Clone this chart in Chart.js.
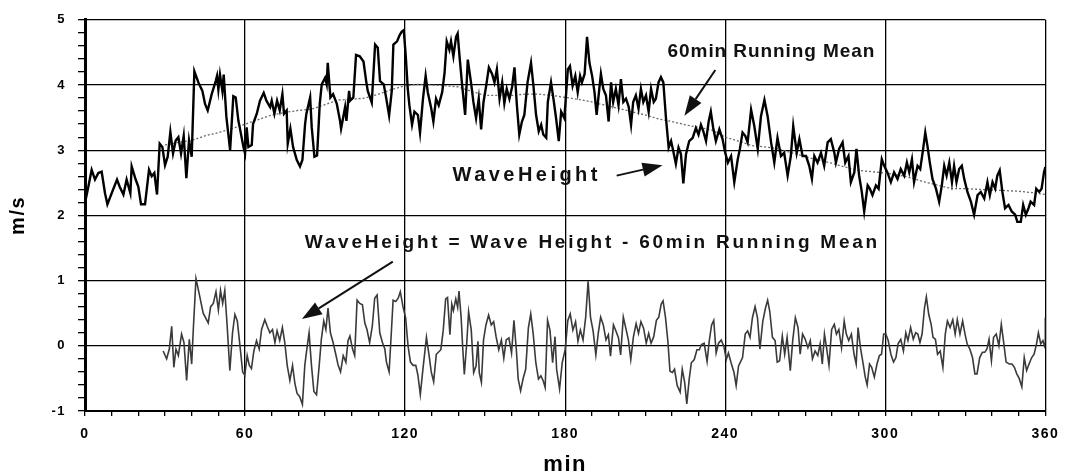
<!DOCTYPE html>
<html><head><meta charset="utf-8">
<script src="https://cdn.jsdelivr.net/npm/chart.js@4.4.1/dist/chart.umd.min.js"></script>
<style>html,body{margin:0;padding:0;background:#fff;}canvas{display:block;}</style>
</head><body>
<canvas id="c" width="1067" height="475"></canvas>
<script>
// ---- Wave height (m/s), time in minutes ----
const waveMin = [0,1.25,2.5,3.75,5,6.25,7.5,8.4,10,12,13,14.4,15.6,17,17.5,19,20,21,22.5,24,25,26,27,28,29,30,31,32,33,34,35,36,37,38,39,40,41,42.5,44,45,46,47.5,49,49.5,50,50.6,51.5,52,53,54.4,55.6,56.5,57.5,58,59.4,60,60.6,61.25,62.5,63,64.4,65.6,67,68,69.4,70,71,72,73,74,74.6,75.6,76,77,78,79.4,80.6,81.5,82.5,83,84.4,85,86,87,88,88.75,90,90.6,91,92,93,94.4,95.6,96,97.5,98,99,99.4,100.6,101.6,103,104.4,105.4,106,107.5,108.75,109.75,110.6,112,113,114,115,115.6,117,118,118.75,
119.5,120.25,121,121.6,122.6,123.5,124.8,125.6,126.7,127.7,128.5,129.8,130.6,131.6,132.6,133.9,134.8,135.6,136.6,137.2,138.1,139.1,139.7,140.4,141.4,142.5,143.5,144.7,145.6,146.6,147.6,148.5,149.4,150.4,151.4,152.6,153.5,154.4,155.4,156.4,157.2,158.1,159.1,160.1,161,161.9,162.8,163.8,164.7,165.9,167.2,168.1,169.1,170.1,171,171.8,172.9,173.5,174.7,175.6,176.6,177.6,178.5,179.7,181,181.8,182.8,183.8,184.7,185.6,186.3,187.3,188.2,189.1,190.1,191,191.8,192.8,193.4,194.3,195.3,196.3,197.2,198,199,200,200.9,201.8,202.8,203.8,204.7,205.5,206.5,207.5,208.4,209.3,210.3,211.3,212.2,213.2,214,215,215.9,216.8,217.8,218.8,219.7,220.5,221.5,222.5,223.4,224.3,225.3,226.5,227.8,229,230,230.9,231.8,232.8,233.8,234.6,235.5,236.5,
237.8,239,240,241,242.2,243.4,244.7,245.5,246.5,247.5,248.4,249.7,250.9,252.2,253.4,254.7,255.9,257.2,258.4,259.6,260.9,262.1,263.4,264.6,265.5,266.8,267.8,269,270.3,271.5,272.5,273.4,274.6,275.9,277.1,278.4,279.6,280.9,281.5,282.7,284,285,286.2,287.1,288.4,289.2,290.2,291.2,292.1,293.4,294.2,295.2,296.5,297.5,298.7,299.6,300.8,302.1,303.3,304.6,305.8,307.1,308.1,309,310,310.8,312.1,313.1,314.2,315,315.8,316.7,317.7,319,320.2,321.2,322.1,323,324,325,325.8,326.7,327.7,328.7,329.6,330.8,332.1,333.3,334.6,335.8,337.1,338.3,339.2,340.2,341.2,342,342.9,343.9,344.9,346.2,347.4,348.7,349.5,350.8,351.7,352.7,353.7,354.5,355.8,356.6,357.7,358.6,359.5,360];
const waveVal = [2.19,2.44,2.70,2.55,2.65,2.67,2.34,2.17,2.34,2.55,2.44,2.32,2.55,2.34,2.75,2.55,2.44,2.17,2.17,2.70,2.60,2.65,2.32,3.10,3.05,2.77,2.90,3.28,2.95,3.15,3.20,2.95,3.22,2.57,3.15,2.90,4.21,4.04,3.91,3.71,3.61,3.86,4.06,4.14,3.93,4.16,3.91,4.16,3.51,3.00,3.83,3.81,3.45,3.35,3.05,2.95,3.35,3.05,3.08,3.40,3.56,3.76,3.88,3.76,3.66,3.76,3.56,3.76,3.61,3.86,3.56,3.61,3.10,3.33,3.05,2.85,2.75,2.85,3.40,3.56,3.81,3.35,2.90,2.92,3.71,4.01,4.11,4.01,4.34,3.81,3.86,3.71,3.45,3.33,3.66,3.45,3.91,3.76,3.81,4.46,4.44,4.36,4.06,3.91,3.73,4.62,4.57,4.06,4.01,3.78,3.53,3.91,4.62,4.67,4.77,4.82,
4.84,4.44,3.94,3.69,3.39,3.59,3.54,3.27,3.79,4.14,3.89,3.64,3.44,3.79,3.69,3.89,4.19,4.67,4.54,4.67,4.44,4.74,4.79,4.44,3.99,3.54,4.39,4.04,3.74,3.49,3.79,3.32,3.74,3.99,4.27,4.17,4.04,4.24,3.79,4.04,3.72,3.94,3.79,3.97,4.27,3.69,3.24,3.44,3.54,4.04,4.34,3.99,3.54,3.29,3.39,3.24,3.19,3.74,4.04,3.79,3.49,3.14,3.59,3.49,4.24,4.29,3.99,4.14,3.89,4.14,4.04,4.17,4.74,4.34,4.14,3.89,3.54,3.94,4.17,3.94,3.84,3.44,4.04,3.74,3.94,3.69,4.09,3.74,3.79,3.67,3.39,3.74,3.84,3.64,3.94,3.74,3.84,3.59,3.94,3.74,3.79,4.04,4.12,4.04,3.49,3.04,3.14,2.99,2.79,3.04,2.94,2.49,2.94,3.14,3.19,3.34,3.24,3.39,3.29,3.14,3.44,3.59,3.34,3.14,
3.32,3.17,2.96,2.81,2.91,2.51,2.86,3.02,3.27,3.22,3.12,3.62,3.37,3.02,3.52,3.77,3.52,3.12,2.81,3.19,2.91,2.96,2.61,2.91,3.37,2.96,3.17,2.91,2.91,2.76,2.56,2.91,2.81,2.96,2.76,3.12,3.17,2.96,2.81,3.02,3.12,2.81,2.91,2.51,2.66,3.02,2.61,2.36,2.06,2.46,2.41,2.31,2.46,2.41,2.86,2.76,2.66,2.51,2.66,2.56,2.71,2.61,2.81,2.66,2.86,2.51,2.76,2.71,3.02,3.27,3.07,2.81,2.56,2.41,2.21,2.46,2.76,2.61,2.81,2.51,2.76,2.51,2.71,2.76,2.56,2.36,2.21,2.01,2.31,2.36,2.26,2.51,2.31,2.51,2.41,2.61,2.69,2.36,2.11,2.16,2.06,2.01,1.90,1.90,2.16,2.01,2.11,2.21,2.16,2.41,2.36,2.41,2.66,2.74];

// ---- 60 min running mean ----
const meanMin = [30,35,40,45,50,55,60,65,70,75,80,85,90,95,100,105,110,115,120,125,130,135,140,145,150,155,160,165,170,175,180,185,190,195,200,205,210,215,220,225,230,235,240,245,250,255,260,265,270,275,280,285,290,295,300,305,310,315,320,325,330,335,340,345,350,355,360];
const meanVal = [3.08,3.12,3.15,3.22,3.27,3.33,3.40,3.47,3.54,3.58,3.61,3.63,3.70,3.77,3.78,3.80,3.86,3.93,3.99,4.01,4.00,3.99,3.97,3.90,3.84,3.84,3.84,3.86,3.86,3.84,3.81,3.78,3.74,3.69,3.64,3.59,3.54,3.48,3.44,3.39,3.35,3.31,3.20,3.14,3.07,3.05,3.02,2.96,2.90,2.85,2.80,2.74,2.69,2.67,2.65,2.62,2.57,2.51,2.46,2.41,2.41,2.40,2.39,2.38,2.37,2.35,2.32];

// ---- Wave height minus running mean ----
const resMin = [29.3,30.6,31.6,32.5,33.3,34.1,35,36.2,37.1,38.1,39.1,40,40.6,41.6,42.8,44.3,46.2,47.1,48.1,49.1,50,50.8,51.6,52.4,53.3,54.3,55.3,56.2,57.1,58.1,59.1,59.9,60.8,61.6,62.4,63.3,64.3,65.3,66.2,67.4,68.3,69.3,70.3,71.2,72,73,74,74.9,75.8,76.8,77.8,78.7,79.5,80.5,81.5,82.4,83,84,84.9,85.8,86.8,87.8,88.6,89.5,90.3,91.1,92,93,94,94.9,95.8,96.8,97.8,98.6,99.3,100.3,101.1,102,103,104,104.9,105.7,106.7,107.7,108.6,109.5,110.5,111.5,112.4,113,114,114.9,115.5,116.5,117.4,118.2,119.2,120.2,121.1,122,123,124,124.8,125.7,126.7,128,129,129.8,130.7,131.7,
133.4,134.3,135.2,135.9,136.8,137.5,138.1,139,139.7,140.2,141,141.5,142.2,143.1,143.8,144.8,145.7,146.6,147.3,147.8,148.6,149.4,150.3,151.3,152.3,153.2,154.1,155.1,156.1,157,157.9,158.9,159.9,160.8,161.7,162.4,163.3,164.2,165.2,166.2,167.1,168,169,170,170.9,171.8,172.5,173.4,174.3,175.3,176.2,176.8,177.9,178.9,180,181,181.9,182.9,183.9,184.8,185.7,186.7,187.7,188.6,189.5,190.5,191.5,192.4,193.3,194.3,195.3,196.2,197,198.1,199.1,200,200.8,201.8,202.9,203.7,204.6,205.6,206.6,207.5,208.4,209.4,210.4,211.3,212.2,213.2,214.2,215.1,216,216.7,217.6,218.5,219.3,220.2,221,222,223.1,223.9,224.8,225.6,226.5,227.3,228.4,229.4,230.3,231.1,232.1,233.2,234,234.9,235.7,236.6,237.5,238.5,239.5,240.4,241.2,242.2,243.3,244.1,245,
246.5,247.5,248.4,249.3,250.2,251.2,252.1,253,254.1,255.1,255.9,256.7,257.7,258.7,259.5,260.4,261.4,262.3,263.2,264.4,265.3,266.3,267.3,268.1,269,270,271,271.9,272.7,273.7,274.7,275.6,276.4,277.2,278,278.9,279.9,280.9,281.7,282.6,283.6,284.6,285.4,286.3,287.3,288.3,289.1,289.8,290.7,291.6,292.5,293.2,294.1,294.9,295.9,296.9,297.8,298.6,299.4,300.2,301.1,302.1,303.1,304,304.8,305.8,306.8,307.7,308.5,309.5,310.5,311.4,312.2,313,313.8,314.7,315.4,316.3,317.2,317.9,318.8,319.6,320.6,321.6,322.5,323.3,324.3,325.3,326.2,327,328,329,329.9,330.7,331.7,332.7,333.6,334.4,335.4,336.4,337.3,338.1,338.9,339.8,340.6,341.6,342.6,343.5,344.3,345.3,346.5,347.5,348.4,349.3,350.2,351.2,352.1,353,353.9,354.9,355.8,356.7,357.4,358.3,359.1,359.9,360];
const resVal = [-0.08,-0.20,-0.05,0.30,-0.33,-0.05,-0.15,0.18,0.05,-0.53,0.10,-0.28,0.25,1.03,0.80,0.50,0.35,0.60,0.65,0.83,0.55,0.85,0.65,0.85,0.30,-0.38,0.20,0.48,0.38,0.00,-0.40,-0.45,-0.15,-0.30,-0.35,-0.08,0.08,-0.05,0.25,0.40,0.30,0.20,0.25,0.05,0.23,0.08,0.28,0.05,-0.30,-0.53,-0.30,-0.58,-0.73,-0.78,-0.90,-0.30,-0.10,0.20,-0.30,-0.70,-0.75,-0.30,0.10,0.38,0.25,0.58,0.20,0.05,-0.13,-0.30,-0.40,-0.15,-0.25,0.08,0.15,-0.05,-0.15,0.70,0.65,0.63,0.35,0.25,0.05,0.30,0.73,0.78,0.20,0.05,-0.05,-0.25,-0.40,0.25,0.70,0.68,0.73,0.83,0.60,0.43,0.00,-0.25,-0.30,-0.30,-0.45,-0.75,-0.35,0.13,-0.15,-0.40,-0.55,-0.13,
-0.06,0.24,0.72,0.74,0.17,0.64,0.54,0.72,0.59,0.84,0.44,0.04,-0.44,0.04,0.52,0.24,-0.41,-0.31,0.07,-0.41,-0.56,0.09,0.32,0.47,0.32,0.37,0.14,-0.06,0.09,-0.19,0.09,0.12,-0.11,0.39,-0.06,-0.51,-0.69,-0.51,-0.36,0.27,0.49,0.19,-0.26,-0.51,-0.46,-0.54,-0.64,0.39,0.24,-0.26,0.14,-0.36,-0.66,-0.26,-0.06,0.39,0.49,0.24,0.37,0.07,0.24,0.09,0.44,0.99,0.44,0.22,-0.14,0.19,0.44,0.32,0.09,0.17,-0.16,0.32,0.22,0.12,-0.14,0.44,0.24,0.09,-0.21,0.14,0.34,0.19,0.37,0.27,0.04,0.19,0.04,0.14,0.39,0.44,0.64,0.69,0.44,0.07,-0.39,-0.41,-0.36,-0.61,-0.71,-0.36,-0.56,-0.89,-0.51,-0.26,-0.21,-0.06,-0.06,0.02,0.04,-0.24,0.07,0.32,0.39,-0.11,0.04,0.09,-0.01,-0.21,-0.11,-0.26,-0.41,-0.61,-0.31,
-0.18,0.18,0.23,0.13,0.43,0.60,0.43,-0.05,0.38,0.58,0.70,0.53,0.13,0.08,-0.25,-0.23,0.15,-0.13,0.13,-0.38,0.08,0.43,0.28,-0.13,0.18,0.10,-0.03,0.08,-0.20,-0.08,-0.15,0.03,-0.28,0.18,-0.03,-0.30,0.25,0.33,0.18,0.25,-0.03,0.38,0.18,0.08,0.18,-0.13,-0.28,0.28,-0.03,-0.25,-0.48,-0.60,-0.28,-0.33,-0.48,-0.28,-0.15,-0.13,0.18,0.18,0.08,-0.13,-0.25,-0.18,0.03,0.10,-0.08,0.20,0.08,0.28,0.10,0.20,0.18,0.05,0.18,0.58,0.75,0.48,0.33,0.13,0.10,-0.13,-0.08,-0.33,0.18,0.38,0.28,0.40,0.18,0.40,0.18,0.38,0.18,0.03,-0.05,-0.18,-0.43,-0.43,-0.18,-0.10,-0.10,-0.05,0.10,-0.23,0.13,0.18,0.00,0.33,0.08,-0.25,-0.28,-0.28,-0.33,-0.43,-0.50,-0.63,-0.18,-0.38,-0.28,-0.18,-0.13,0.03,0.20,0.03,0.08,-0.03,0.43];

// ---- Axis ticks ----
const xTickLabels = [0, 60, 120, 180, 240, 300, 360];
const yTickLabels = [-1, 0, 1, 2, 3, 4, 5];

// ---- Annotations (data units) ----
const noteText = ['60min Running Mean', 'WaveHeight', 'WaveHeight = Wave Height - 60min Running Mean'];
const noteX0 = [218.4, 137.8, 82.4];
const noteX1 = [295.9, 192.1, 297.0];
const noteY = [4.43, 2.53, 1.50];
const noteSize = [19, 20, 19];
const arrowFrom = [[236.3, 4.23], [199.3, 2.61], [115.4, 1.29]];
const arrowTo = [[224.7, 3.53], [216.5, 2.77], [81.3, 0.41]];

const FONT = '"Liberation Sans", Arial, sans-serif';
const toXY = (xs, ys) => xs.map((x, i) => ({x: x, y: ys[i]}));

const isInt = v => Math.abs(v - Math.round(v)) < 1e-6;

const spacingPlugin = {
  id: 'spacing',
  beforeDraw(chart) { chart.ctx.letterSpacing = '1.5px'; }
};

const notePlugin = {
  id: 'notes',
  afterDatasetsDraw(chart) {
    const ctx = chart.ctx, xs = chart.scales.x, ys = chart.scales.y;
    ctx.save();
    ctx.fillStyle = '#111';
    ctx.textAlign = 'left';
    ctx.textBaseline = 'alphabetic';
    noteText.forEach((t, i) => {
      ctx.font = 'bold ' + noteSize[i] + 'px ' + FONT;
      ctx.letterSpacing = '0px';
      const x0 = xs.getPixelForValue(noteX0[i]);
      const x1 = xs.getPixelForValue(noteX1[i]);
      const w = ctx.measureText(t).width;
      const ls = (x1 - x0 - w) / (t.length - 1);
      ctx.letterSpacing = ls.toFixed(2) + 'px';
      ctx.fillText(t, x0, ys.getPixelForValue(noteY[i]));
    });
    ctx.letterSpacing = '0px';
    ctx.strokeStyle = '#111';
    ctx.lineWidth = 2;
    arrowFrom.forEach((a, i) => {
      const ax = xs.getPixelForValue(a[0]), ay = ys.getPixelForValue(a[1]);
      const bx = xs.getPixelForValue(arrowTo[i][0]), by = ys.getPixelForValue(arrowTo[i][1]);
      const ang = Math.atan2(by - ay, bx - ax);
      const hl = 20, hw = 7;
      const baseX = bx - hl * Math.cos(ang), baseY = by - hl * Math.sin(ang);
      ctx.beginPath();
      ctx.moveTo(ax, ay);
      ctx.lineTo(baseX, baseY);
      ctx.stroke();
      ctx.beginPath();
      ctx.moveTo(bx, by);
      ctx.lineTo(baseX + hw * Math.sin(ang), baseY - hw * Math.cos(ang));
      ctx.lineTo(baseX - hw * Math.sin(ang), baseY + hw * Math.cos(ang));
      ctx.closePath();
      ctx.fill();
    });
    ctx.restore();
  }
};

new Chart(document.getElementById('c'), {
  type: 'line',
  data: {
    datasets: [
      {
        label: 'WaveHeight',
        data: toXY(waveMin, waveVal),
        borderColor: '#000', borderWidth: 2.4,
        pointRadius: 0, tension: 0, fill: false
      },
      {
        label: 'WaveHeight - 60min Running Mean',
        data: toXY(resMin, resVal),
        borderColor: '#3a3a3a', borderWidth: 1.6,
        pointRadius: 0, tension: 0, fill: false
      },
      {
        label: '60min Running Mean',
        data: toXY(meanMin, meanVal),
        borderColor: '#6a6a6a', borderWidth: 1.3, borderDash: [2, 2],
        pointRadius: 0, tension: 0, fill: false
      }
    ]
  },
  options: {
    responsive: false,
    animation: false,
    devicePixelRatio: 1,
    parsing: false,
    layout: { padding: { top: 15, right: 20, left: 0, bottom: 0 } },
    plugins: { legend: { display: false }, tooltip: { enabled: false } },
    scales: {
      x: {
        type: 'linear', min: 0, max: 360,
        afterFit(s) { s.height = 64; },
        ticks: {
          stepSize: 10, autoSkip: false, maxRotation: 0, minRotation: 0,
          padding: 10, color: '#000',
          font: { family: FONT, size: 14, weight: 'bold' },
          callback: v => (xTickLabels.includes(v) ? String(v) : '')
        },
        grid: {
          color: c => (c.tick && c.tick.value % 60 === 0 ? '#000' : 'rgba(0,0,0,0)'),
          tickColor: '#000', lineWidth: 1.3, tickLength: 5
        },
        border: { display: true, color: '#000', width: 2 },
        title: {
          display: true, text: 'min', color: '#000',
          font: { family: FONT, size: 22, weight: 'bold', lineHeight: 0.9 },
          padding: { top: 0, bottom: 0 }
        }
      },
      y: {
        type: 'linear', min: -1, max: 5,
        afterFit(s) { s.width = 85; },
        ticks: {
          stepSize: 0.2, autoSkip: false, padding: 12, color: '#000',
          font: { family: FONT, size: 13, weight: 'bold' },
          callback: v => (isInt(v) && yTickLabels.includes(Math.round(v)) ? String(Math.round(v)) : '')
        },
        grid: {
          color: c => (c.tick && isInt(c.tick.value) ? '#000' : 'rgba(0,0,0,0)'),
          tickColor: '#000', lineWidth: 1.3, tickLength: 7
        },
        border: { display: true, color: '#000', width: 3 },
        title: {
          display: true, text: 'm/s', color: '#000',
          font: { family: FONT, size: 20, weight: 'bold', lineHeight: 1.2 },
          padding: { top: 6, bottom: 0 }
        }
      }
    }
  },
  plugins: [spacingPlugin, notePlugin]
});
</script>
</body></html>
